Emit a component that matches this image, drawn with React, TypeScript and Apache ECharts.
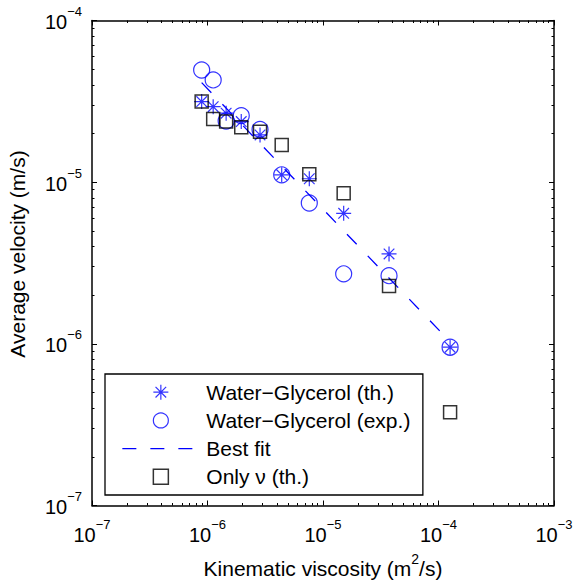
import React, { useEffect, useRef } from 'react';
import * as echarts from 'echarts';

// Kinematic viscosity (m^2/s) of the ten mixtures
const viscosity = [8.9e-7, 1.12e-6, 1.45e-6, 1.96e-6, 2.85e-6, 4.39e-6, 7.61e-6, 1.51e-5, 3.73e-5, 1.26e-4];
// Average velocity (m/s)
const velocityTheory = [3.15e-5, 2.93e-5, 2.67e-5, 2.37e-5, 1.96e-5, 1.11e-5, 1.05e-5, 6.42e-6, 3.6e-6, 9.53e-7];
const velocityExp = [4.94e-5, 4.29e-5, 2.39e-5, 2.58e-5, 2.12e-5, 1.11e-5, 7.43e-6, 2.71e-6, 2.64e-6, 9.53e-7];
const velocityOnlyNu = [3.15e-5, 2.46e-5, 2.37e-5, 2.19e-5, 2.05e-5, 1.7e-5, 1.12e-5, 8.54e-6, 2.28e-6, 3.78e-7];
const fitViscosity = [8.9e-7, 1.26e-4];
const fitVelocity = [4.13e-5, 1.03e-6];

const xMajorTicks = [1e-7, 1e-6, 1e-5, 1e-4, 1e-3];
const yMajorTicks = [1e-7, 1e-6, 1e-5, 1e-4];
const minorMultipliers = [2, 3, 4, 5, 6, 7, 8, 9];

const seriesNames = ['Water−Glycerol (th.)', 'Water−Glycerol (exp.)', 'Best fit', 'Only ν (th.)'];
const xTitle = '{a|Kinematic viscosity (m}{s|2}{a|/s)}';
const yTitle = 'Average velocity (m/s)';

const FONT = '"Liberation Sans", Arial, Helvetica, sans-serif';
const BLUE = '#0000ff';
const BLACK = '#000000';
const ASTERISK = 'path://M0 5L10 5M5 0L5 10M1.46 1.46L8.54 8.54M8.54 1.46L1.46 8.54';
const SQUARE = 'path://M0 0L10 0L10 10L0 10Z';

const minorOf = (majors: number[]) => {
  const out: number[] = [];
  for (let i = 0; i < majors.length - 1; i++) {
    for (const m of minorMultipliers) out.push(m * majors[i]);
  }
  return out;
};

const powLabel = (v: number) => {
  const e = Math.round(Math.log10(v));
  return `{b|10}{s|${e < 0 ? '−' : ''}${Math.abs(e)}}`;
};

const tickRich = {
  b: { fontSize: 20, lineHeight: 20, verticalAlign: 'bottom', color: BLACK, fontFamily: FONT },
  s: { fontSize: 13, lineHeight: 27, verticalAlign: 'top', padding: [0, 0, 14, 0], color: BLACK, fontFamily: FONT },
};

const pairs = (xs: number[], ys: number[]) => xs.map((x, i) => [x, ys[i]]);

export default function App() {
  const ref = useRef<HTMLDivElement>(null);
  useEffect(() => {
    if (!ref.current) return;
    const chart = echarts.init(ref.current, null, { renderer: 'svg' });
    const xMinor = minorOf(xMajorTicks);
    const yMinor = minorOf(yMajorTicks);
    const frame = { color: BLACK, width: 1.5 };
    const tickLine = { color: BLACK, width: 1 };

    const xAxisBase = { type: 'log', logBase: 10, min: 1e-7, max: 1e-3, gridIndex: 0, splitLine: { show: false } };
    const yAxisBase = { type: 'log', logBase: 10, min: 1e-7, max: 1e-4, gridIndex: 0, splitLine: { show: false } };

    const majorTick = (values: number[]) => ({ show: true, inside: true, length: 5, customValues: values, lineStyle: tickLine });
    const minorTickAxis = (values: number[]) => ({ show: true, inside: true, length: 2.5, customValues: values, lineStyle: tickLine });

    const option: any = {
      animation: false,
      backgroundColor: '#ffffff',
      textStyle: { fontFamily: FONT },
      grid: { left: 92, top: 20.5, width: 462, height: 485, containLabel: false, outerBoundsMode: 'none' },
      xAxis: [
        {
          ...xAxisBase,
          position: 'bottom',
          axisLine: { show: true, lineStyle: frame },
          axisTick: majorTick(xMajorTicks),
          axisLabel: { show: true, customValues: xMajorTicks, formatter: powLabel, rich: tickRich, margin: 12.5 },
          name: xTitle,
          nameLocation: 'middle',
          nameGap: 46,
          nameMoveOverlap: false,
          nameTextStyle: {
            rich: {
              a: { fontSize: 21, lineHeight: 21, verticalAlign: 'bottom', color: BLACK, fontFamily: FONT },
              s: { fontSize: 14, lineHeight: 27, verticalAlign: 'top', padding: [0, 0, 13, 0], color: BLACK, fontFamily: FONT },
            },
          },
        },
        { ...xAxisBase, position: 'bottom', axisLine: { show: false }, axisTick: minorTickAxis(xMinor), axisLabel: { show: false } },
        { ...xAxisBase, position: 'top', axisLine: { show: true, lineStyle: frame }, axisTick: majorTick(xMajorTicks), axisLabel: { show: false } },
        { ...xAxisBase, position: 'top', axisLine: { show: false }, axisTick: minorTickAxis(xMinor), axisLabel: { show: false } },
      ],
      yAxis: [
        {
          ...yAxisBase,
          position: 'left',
          axisLine: { show: true, lineStyle: frame },
          axisTick: majorTick(yMajorTicks),
          axisLabel: { show: true, customValues: yMajorTicks, formatter: powLabel, rich: tickRich, margin: 10, padding: [0, 0, 4, 0] },
          name: yTitle,
          nameLocation: 'middle',
          nameGap: 64,
          nameRotate: 90,
          nameMoveOverlap: false,
          nameTextStyle: { fontSize: 21, lineHeight: 21, color: BLACK, fontFamily: FONT, padding: [0, 0, 0, 18] },
        },
        { ...yAxisBase, position: 'left', axisLine: { show: false }, axisTick: minorTickAxis(yMinor), axisLabel: { show: false } },
        { ...yAxisBase, position: 'right', axisLine: { show: true, lineStyle: frame }, axisTick: majorTick(yMajorTicks), axisLabel: { show: false } },
        { ...yAxisBase, position: 'right', axisLine: { show: false }, axisTick: minorTickAxis(yMinor), axisLabel: { show: false } },
      ],
      legend: {
        orient: 'vertical',
        left: 105,
        top: 374,
        padding: [7.7, 12.5, 7.7, 16.7],
        itemWidth: 77,
        itemHeight: 15,
        itemGap: 7.2,
        backgroundColor: '#ffffff',
        borderColor: BLACK,
        borderWidth: 1.3,
        borderRadius: 0,
        selectedMode: false,
        symbolKeepAspect: true,
        textStyle: { fontSize: 21, lineHeight: 20, color: BLACK, fontFamily: FONT, padding: [0, 0, 0, 2] },
        data: [
          { name: seriesNames[0], itemStyle: { color: 'none', borderColor: BLUE, borderWidth: 1.2 } },
          { name: seriesNames[1], itemStyle: { color: 'none', borderColor: BLUE, borderWidth: 1.2 } },
          {
            name: seriesNames[2],
            itemStyle: { color: 'rgba(0,0,0,0)', borderColor: 'rgba(0,0,0,0)', borderWidth: 0, opacity: 0 },
            lineStyle: { color: BLUE, width: 1.3, type: [14, 14] },
          },
          { name: seriesNames[3], icon: SQUARE, itemStyle: { color: 'none', borderColor: BLACK, borderWidth: 1.5 } },
        ],
      },
      series: [
        {
          name: seriesNames[2],
          type: 'line',
          xAxisIndex: 0,
          yAxisIndex: 0,
          data: pairs(fitViscosity, fitVelocity),
          symbol: 'none',
          lineStyle: { color: BLUE, width: 1.3, type: [14, 16] },
          itemStyle: { color: BLUE },
          z: 2,
        },
        {
          name: seriesNames[0],
          type: 'scatter',
          xAxisIndex: 0,
          yAxisIndex: 0,
          data: pairs(viscosity, velocityTheory),
          symbol: ASTERISK,
          symbolSize: 15,
          itemStyle: { color: 'none', borderColor: BLUE, borderWidth: 1.2 },
          z: 3,
        },
        {
          name: seriesNames[1],
          type: 'scatter',
          xAxisIndex: 0,
          yAxisIndex: 0,
          data: pairs(viscosity, velocityExp),
          symbol: 'circle',
          symbolSize: 16,
          itemStyle: { color: 'none', borderColor: BLUE, borderWidth: 1.2 },
          z: 3,
        },
        {
          name: seriesNames[3],
          type: 'scatter',
          xAxisIndex: 0,
          yAxisIndex: 0,
          data: pairs(viscosity, velocityOnlyNu),
          symbol: SQUARE,
          symbolSize: 13,
          itemStyle: { color: 'none', borderColor: BLACK, borderWidth: 1.5 },
          z: 3,
        },
      ],
    };
    chart.setOption(option);
    return () => chart.dispose();
  }, []);

  return (
    <div
      ref={ref}
      style={{ position: 'absolute', left: 0, top: 0, width: 577, height: 588, background: '#ffffff' }}
    />
  );
}
